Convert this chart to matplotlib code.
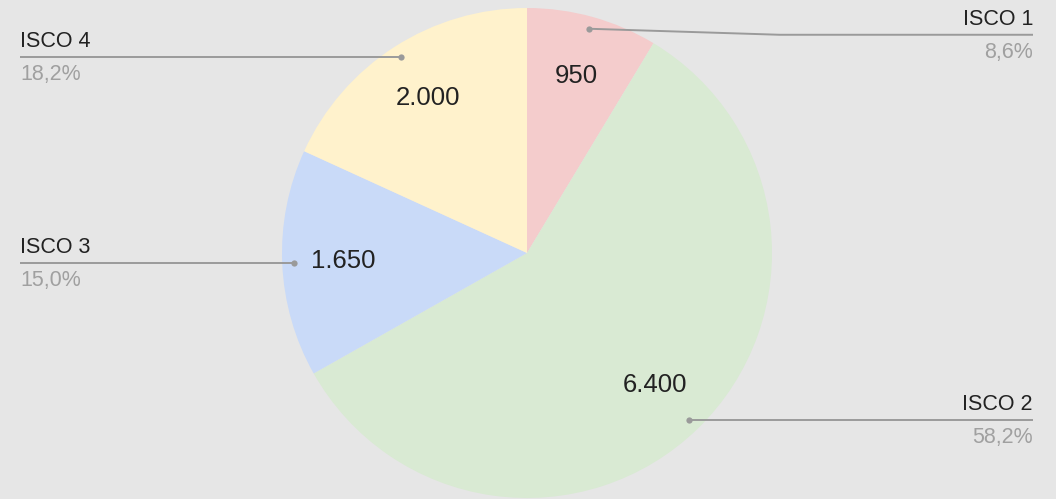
import numpy as np
import matplotlib
matplotlib.use("Agg")
import matplotlib.pyplot as plt

# data
categories = ["ISCO 1", "ISCO 2", "ISCO 3", "ISCO 4"]
values = [950, 6400, 1650, 2000]
value_labels = ["950", "6.400", "1.650", "2.000"]
colors = ["#f4cccc", "#d9ead3", "#c9daf8", "#fff2cc"]

W, H = 1056, 499
BG = "#e6e6e6"
plt.rcParams["font.family"] = ["Liberation Sans", "DejaVu Sans"]

fig = plt.figure(figsize=(W / 100, H / 100), dpi=100, facecolor=BG)
ax = fig.add_axes([0, 0, 1, 1])

# pie drawn in pixel-like coordinates (y up)
cx, cy, R = 527, H - 253, 245
wedges, _ = ax.pie(values, colors=colors, startangle=90, counterclock=False,
                   center=(cx, cy), radius=R, frame=True,
                   wedgeprops=dict(linewidth=0))
ax.set_xlim(0, W)
ax.set_ylim(0, H)
ax.set_aspect("equal")
ax.axis("off")

total = sum(values)
line_c = "#9a9a9a"
for w, cat, v, vl in zip(wedges, categories, values, value_labels):
    mid = np.deg2rad((w.theta1 + w.theta2) / 2)
    # value inside slice
    ax.text(cx + 0.75 * R * np.cos(mid), cy + 0.75 * R * np.sin(mid), vl,
            ha="center", va="center", fontsize=18.5, color="#222222")
    # leader line from a dot near the rim to the side of the chart
    dx, dy = cx + 0.95 * R * np.cos(mid), cy + 0.95 * R * np.sin(mid)
    if np.cos(mid) > 0:
        ly = dy - 6 if dy > H - 60 else dy
        xs = [dx, dx + 190 if ly != dy else dx, 1033]
        ys = [dy, ly, ly]
        tx, ha = 1033, "right"
    else:
        ly = dy
        xs, ys = [dx, 20], [dy, dy]
        tx, ha = 20, "left"
    ax.plot(xs, ys, color=line_c, lw=1.4, solid_capstyle="butt")
    ax.plot(dx, dy, "o", color=line_c, ms=4.5, mec="none")
    pct = f"{100 * v / total:.1f}%".replace(".", ",")
    ax.text(tx, ly + 5, cat, ha=ha, va="bottom", fontsize=15.5, color="#222222")
    ax.text(tx, ly - 7, pct, ha=ha, va="top", fontsize=15.5, color="#a0a0a0")

fig.savefig("out.png", dpi=100, facecolor=BG)
